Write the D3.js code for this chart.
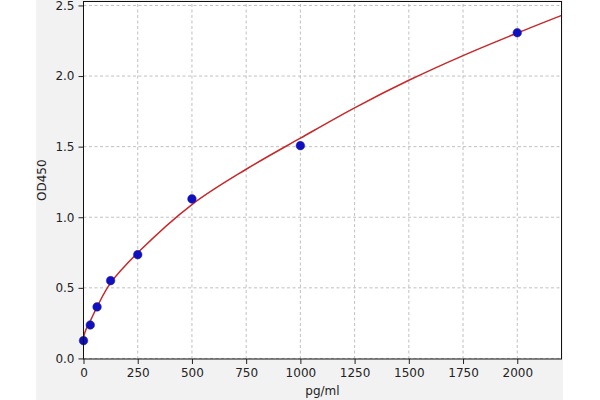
<!DOCTYPE html>
<html>
<head>
<meta charset="utf-8">
<script src="https://cdn.jsdelivr.net/npm/d3@7"></script>
<style>
body{margin:0;background:#fff;}
svg{display:block;font-family:'DejaVu Sans',sans-serif;}
</style>
</head>
<body>
<div id="chart"></div>
<script>
// standard points (pg/ml, OD450)
var concs=[0,31.25,62.5,125,250,500,1000,2000];
var ods=[0.126,0.237,0.365,0.551,0.735,1.13,1.507,2.307];
// fitted curve
var fitX=[0,10,31.25,62.5,125,250,500,750,1000,1250,1500,1750,2000,2205];
var fitY=[0.15,0.2,0.265,0.365,0.535,0.748,1.09,1.34,1.56,1.775,1.97,2.145,2.305,2.43];
var xTicks=[0,250,500,750,1000,1250,1500,1750,2000];
var yTicks=[0,0.5,1.0,1.5,2.0,2.5];

var W=600,H=400;
var svg=d3.select('#chart').append('svg').attr('width',W).attr('height',H);

svg.append('rect').attr('x',36).attr('y',0).attr('width',527).attr('height',H).attr('fill','#f2f2f2');

var x=d3.scaleLinear().domain([0,2204]).range([83.5,561.5]);
var y=d3.scaleLinear().domain([-0.004,2.528]).range([359,1.5]);

svg.append('rect').attr('x',x.range()[0]).attr('y',y.range()[1])
	.attr('width',x.range()[1]-x.range()[0]).attr('height',y.range()[0]-y.range()[1])
	.attr('fill','#fff');

// grid
var gGrid=svg.append('g');
gGrid.selectAll('.vg').data(xTicks).enter().append('line')
	.attr('x1',function(d){return x(d);}).attr('x2',function(d){return x(d);})
	.attr('y1',y.range()[0]).attr('y2',y.range()[1]);
gGrid.selectAll('.hg').data(yTicks).enter().append('line')
	.attr('y1',function(d){return y(d);}).attr('y2',function(d){return y(d);})
	.attr('x1',x.range()[0]).attr('x2',x.range()[1]);
gGrid.selectAll('line').attr('stroke','#b0b0b0').attr('stroke-width',0.8).attr('stroke-dasharray','3,2.5');

svg.append('clipPath').attr('id','clip').append('rect')
	.attr('x',x.range()[0]).attr('y',y.range()[1])
	.attr('width',x.range()[1]-x.range()[0]).attr('height',y.range()[0]-y.range()[1]);

// fitted curve
var line=d3.line().x(function(d,i){return x(fitX[i]);}).y(function(d){return y(d);}).curve(d3.curveCatmullRom.alpha(0.5));
svg.append('path').datum(fitY).attr('d',line).attr('fill','none')
	.attr('stroke','#c8282a').attr('stroke-width',1.5).attr('clip-path','url(#clip)');

// points
svg.append('g').selectAll('circle').data(ods).enter().append('circle')
	.attr('cx',function(d,i){return x(concs[i]);})
	.attr('cy',function(d){return y(d);})
	.attr('r',4.3).attr('fill','#1010c0').attr('stroke','#2020a0').attr('stroke-width',0.5);

// axes
var xAxis=d3.axisBottom(x).tickValues(xTicks).tickSize(5).tickPadding(4).tickFormat(d3.format('d'));
var yAxis=d3.axisLeft(y).tickValues(yTicks).tickSize(5).tickPadding(4).tickFormat(d3.format('.1f'));
var gx=svg.append('g').attr('transform','translate(0,'+y.range()[0]+')').call(xAxis);
var gy=svg.append('g').attr('transform','translate('+x.range()[0]+',0)').call(yAxis);
[gx,gy].forEach(function(g){
	g.select('.domain').remove();
	g.selectAll('text').attr('font-size',12).attr('font-family','DejaVu Sans').attr('fill','#222');
	g.selectAll('line').attr('stroke','#222');
});

// frame
svg.append('rect').attr('x',x.range()[0]).attr('y',y.range()[1])
	.attr('width',x.range()[1]-x.range()[0]).attr('height',y.range()[0]-y.range()[1])
	.attr('fill','none').attr('stroke','#111').attr('stroke-width',1);

svg.append('text').attr('x',(x.range()[0]+x.range()[1])/2).attr('y',395)
	.attr('text-anchor','middle').attr('font-size',12).attr('fill','#222').text('pg/ml');
svg.append('text').attr('transform','translate(46,'+((y.range()[0]+y.range()[1])/2)+') rotate(-90)')
	.attr('text-anchor','middle').attr('font-size',12).attr('fill','#222').text('OD450');
</script>
</body>
</html>
